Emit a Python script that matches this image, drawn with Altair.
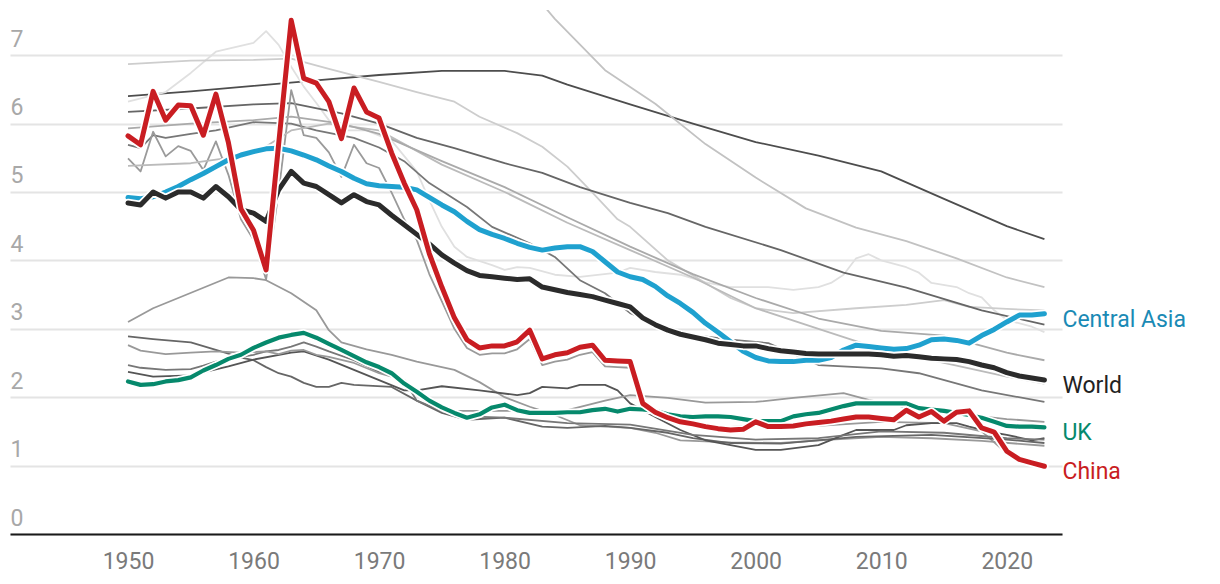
import altair as alt
import pandas as pd

# ---------------- data ----------------
years = list(range(1950, 2024))

china = [5.82, 5.69, 6.47, 6.05, 6.27, 6.26, 5.83, 6.43, 5.72, 4.75,
         4.44, 3.86, 5.70, 7.51, 6.66, 6.59, 6.32, 5.78, 6.52, 6.17,
         6.08, 5.57, 5.13, 4.74, 4.10, 3.61, 3.16, 2.84, 2.72, 2.75,
         2.75, 2.81, 2.98, 2.56, 2.62, 2.65, 2.73, 2.76, 2.54, 2.53,
         2.52, 1.91, 1.78, 1.70, 1.64, 1.61, 1.57, 1.54, 1.52, 1.53,
         1.64, 1.57, 1.57, 1.58, 1.61, 1.63, 1.65, 1.68, 1.71, 1.71,
         1.69, 1.67, 1.81, 1.71, 1.79, 1.65, 1.78, 1.80, 1.55, 1.49,
         1.21, 1.09, 1.04, 0.99]

world = [4.84, 4.81, 5.00, 4.91, 5.00, 5.00, 4.91, 5.08, 4.93, 4.74,
         4.69, 4.57, 5.03, 5.30, 5.13, 5.08, 4.96, 4.84, 4.96, 4.86,
         4.81, 4.66, 4.52, 4.38, 4.24, 4.08, 3.96, 3.85, 3.78, 3.76,
         3.74, 3.72, 3.73, 3.61, 3.57, 3.53, 3.50, 3.47, 3.42, 3.37,
         3.32, 3.16, 3.06, 2.98, 2.92, 2.88, 2.84, 2.79, 2.77, 2.75,
         2.75, 2.71, 2.68, 2.66, 2.64, 2.63, 2.63, 2.63, 2.63, 2.63,
         2.62, 2.60, 2.61, 2.59, 2.57, 2.56, 2.55, 2.52, 2.47, 2.43,
         2.36, 2.31, 2.28, 2.25]

central_asia = [4.92, 4.90, 4.93, 5.00, 5.08, 5.18, 5.27, 5.37, 5.47, 5.54,
                5.59, 5.63, 5.64, 5.60, 5.54, 5.47, 5.38, 5.30, 5.20, 5.12,
                5.09, 5.08, 5.07, 5.03, 4.92, 4.81, 4.71, 4.57, 4.45, 4.38,
                4.32, 4.25, 4.19, 4.15, 4.18, 4.20, 4.20, 4.13, 3.98, 3.83,
                3.76, 3.72, 3.62, 3.48, 3.37, 3.24, 3.08, 2.95, 2.81, 2.67,
                2.58, 2.53, 2.52, 2.52, 2.54, 2.54, 2.58, 2.69, 2.76, 2.74,
                2.72, 2.70, 2.71, 2.76, 2.84, 2.85, 2.83, 2.79, 2.90, 2.99,
                3.10, 3.20, 3.20, 3.22]

uk = [2.23, 2.18, 2.19, 2.23, 2.25, 2.29, 2.39, 2.47, 2.56, 2.62,
      2.72, 2.80, 2.87, 2.91, 2.94, 2.87, 2.78, 2.69, 2.60, 2.51,
      2.44, 2.35, 2.20, 2.08, 1.95, 1.85, 1.77, 1.70, 1.75, 1.85,
      1.89, 1.81, 1.77, 1.77, 1.77, 1.78, 1.78, 1.81, 1.83, 1.79,
      1.83, 1.82, 1.80, 1.75, 1.72, 1.71, 1.72, 1.72, 1.71, 1.68,
      1.65, 1.65, 1.65, 1.72, 1.75, 1.77, 1.82, 1.87, 1.91, 1.91,
      1.91, 1.91, 1.91, 1.84, 1.82, 1.80, 1.77, 1.74, 1.70, 1.64,
      1.58, 1.57, 1.57, 1.56]

# background (grey) series: (years, values)
g1_years = [1950, 1955, 1960, 1965, 1970, 1975, 1980, 1983, 1985, 1990, 1995, 2000, 2005, 2010, 2015, 2020, 2023]
g1_vals = [6.40, 6.47, 6.55, 6.63, 6.71, 6.77, 6.77, 6.70, 6.57, 6.28, 6.00, 5.73, 5.53, 5.30, 4.90, 4.50, 4.31]

g2_years = [1965, 1975, 1980, 1984, 1988, 1992, 1996, 2000, 2004, 2008, 2012, 2016, 2020, 2023]
g2_vals = [8.6, 8.7, 8.4, 7.53, 6.78, 6.29, 5.70, 5.21, 4.76, 4.48, 4.28, 4.03, 3.75, 3.61]

g3_years = [1950, 1953, 1955, 1957, 1960, 1961, 1962, 1963, 1964, 1965, 1966, 1967, 1969, 1971,
            1973, 1974, 1975, 1976, 1977, 1979, 1980, 1981, 1982, 1984, 1986, 1989, 1990, 1992,
            1994, 1996, 1998, 2001, 2003, 2005, 2006, 2007, 2008, 2009, 2010, 2012, 2013, 2014,
            2016, 2017, 2018, 2019, 2020, 2022, 2023]
g3_vals = [6.32, 6.46, 6.74, 7.05, 7.18, 7.35, 7.15, 6.83, 6.54, 6.30, 6.05, 5.90, 5.90, 5.75,
           5.30, 4.88, 4.49, 4.20, 4.05, 3.93, 3.86, 3.90, 3.89, 3.79, 3.76, 3.82, 3.89, 3.83,
           3.79, 3.68, 3.61, 3.61, 3.57, 3.61, 3.67, 3.79, 4.03, 4.09, 4.00, 3.90, 3.82, 3.67,
           3.61, 3.52, 3.46, 3.27, 3.13, 3.03, 2.95]

g4_years = [1950, 1955, 1960, 1963, 1966, 1970, 1973, 1976, 1978, 1981, 1983, 1985, 1987, 1989,
            1990, 1993, 1996, 1998, 2000, 2003, 2008, 2012, 2015, 2017, 2020, 2023]
g4_vals = [6.87, 6.92, 6.93, 6.95, 6.80, 6.61, 6.46, 6.32, 6.10, 5.86, 5.66, 5.37, 4.99, 4.60,
           4.49, 4.00, 3.67, 3.45, 3.30, 3.23, 3.30, 3.35, 3.42, 3.32, 3.29, 3.27]

g5_years = [1950, 1955, 1960, 1963, 1967, 1970, 1973, 1976, 1980, 1983, 1986, 1990, 1993, 1996,
            2002, 2007, 2012, 2018, 2023]
g5_vals = [6.17, 6.22, 6.28, 6.30, 6.15, 6.00, 5.79, 5.64, 5.42, 5.28, 5.07, 4.84, 4.69, 4.49,
           4.15, 3.82, 3.60, 3.27, 3.06]

g6_years = [1950, 1951, 1952, 1953, 1955, 1957, 1960, 1963, 1965, 1968, 1970, 1972, 1974, 1977,
            1979, 1982, 1984, 1986, 1988, 1990, 1992, 1995, 1998, 2001, 2005, 2010, 2013, 2018, 2023]
g6_vals = [5.69, 5.64, 5.83, 5.79, 5.85, 5.90, 6.02, 6.00, 5.90, 5.79, 5.65, 5.45, 5.13, 4.78,
           4.49, 4.25, 4.05, 3.71, 3.52, 3.23, 3.08, 2.91, 2.84, 2.79, 2.47, 2.42, 2.35, 2.10, 1.93]

g7_years = list(range(1950, 1991)) + [1991, 1993, 1996, 2000, 2005, 2010, 2015, 2018, 2020, 2023]
g7_vals = [5.49, 5.30, 5.88, 5.52, 5.67, 5.60, 5.32, 5.74, 5.25, 4.60,
           4.30, 3.72, 5.00, 6.49, 5.83, 5.79, 5.58, 5.22, 5.69, 5.42,
           5.35, 4.99, 4.60, 4.30, 3.80, 3.40, 3.00, 2.72, 2.62, 2.64,
           2.64, 2.70, 2.85, 2.47, 2.52, 2.55, 2.62, 2.66, 2.45, 2.44,
           2.43, 1.88, 1.68, 1.55, 1.58, 1.58, 1.64, 1.62, 1.50, 1.18, 0.97]

g8_years = [1950, 1955, 1960, 1963, 1966, 1970, 1975, 1980, 1985, 1990, 1995, 2000, 2005, 2010, 2015, 2020, 2023]
g8_vals = [5.38, 5.42, 5.55, 5.90, 6.00, 5.90, 5.40, 5.00, 4.55, 4.15, 3.75, 3.30, 3.00, 2.70, 2.50, 2.30, 2.20]

g9_years = [1950, 1955, 1960, 1963, 1967, 1970, 1975, 1980, 1985, 1990, 1995, 2000, 2005, 2010, 2015, 2020, 2023]
g9_vals = [5.93, 6.00, 6.05, 6.10, 6.00, 5.85, 5.45, 5.07, 4.63, 4.20, 3.80, 3.45, 3.15, 2.97, 2.90, 2.65, 2.54]

l1_years = [1950, 1952, 1954, 1956, 1958, 1960, 1961, 1963, 1965, 1966, 1967, 1969, 1971, 1973, 1976,
            1978, 1980, 1982, 1984, 1986, 1988, 1990, 1992, 1994, 1998, 2002, 2006, 2010, 2014, 2018, 2023]
l1_vals = [3.10, 3.30, 3.45, 3.60, 3.75, 3.74, 3.71, 3.52, 3.27, 2.98, 2.80, 2.70, 2.62, 2.52, 2.40,
           2.22, 2.00, 1.86, 1.74, 1.59, 1.57, 1.55, 1.48, 1.37, 1.34, 1.33, 1.38, 1.42, 1.40, 1.36, 1.29]

l2_years = [1950, 1952, 1955, 1957, 1959, 1960, 1961, 1962, 1963, 1964, 1965, 1966, 1967, 1968, 1971,
            1973, 1975, 1977, 1980, 1983, 1985, 1988, 1990, 1993, 1995, 1998, 2002, 2008, 2014, 2020, 2023]
l2_vals = [2.89, 2.85, 2.80, 2.69, 2.58, 2.54, 2.44, 2.35, 2.30, 2.21, 2.15, 2.15, 2.21, 2.18, 2.15,
           1.95, 1.77, 1.67, 1.70, 1.57, 1.55, 1.58, 1.55, 1.48, 1.40, 1.33, 1.32, 1.42, 1.45, 1.38, 1.33]

l3_years = [1950, 1952, 1955, 1958, 1960, 1963, 1964, 1966, 1968, 1970, 1972, 1973, 1975, 1978, 1981,
            1982, 1983, 1985, 1986, 1988, 1989, 1990, 1992, 1994, 1996, 1998, 2000, 2002, 2005, 2007,
            2008, 2011, 2012, 2014, 2016, 2017, 2019, 2020, 2022, 2023]
l3_vals = [2.37, 2.30, 2.32, 2.45, 2.55, 2.65, 2.67, 2.55, 2.40, 2.25, 2.10, 2.10, 2.16, 2.10, 2.03,
           2.06, 2.15, 2.13, 2.18, 2.18, 2.10, 1.91, 1.71, 1.52, 1.37, 1.30, 1.23, 1.23, 1.30, 1.45,
           1.52, 1.52, 1.59, 1.62, 1.62, 1.57, 1.48, 1.45, 1.37, 1.40]

l4_years = [1950, 1951, 1953, 1955, 1956, 1957, 1959, 1960, 1961, 1962, 1963, 1964, 1965, 1966, 1968,
            1970, 1972, 1973, 1975, 1977, 1980, 1985, 1990, 1995, 2000, 2005, 2010, 2015, 2020, 2023]
l4_vals = [2.47, 2.43, 2.40, 2.41, 2.46, 2.52, 2.59, 2.62, 2.67, 2.69, 2.74, 2.80, 2.74, 2.67, 2.54,
           2.37, 2.25, 1.95, 1.80, 1.72, 1.70, 1.62, 1.60, 1.45, 1.38, 1.40, 1.50, 1.48, 1.40, 1.38]

l5_years = [1950, 1951, 1953, 1955, 1957, 1959, 1961, 1962, 1963, 1964, 1965, 1966, 1968, 1970, 1972,
            1974, 1976, 1980, 1985, 1988, 1990, 1993, 1996, 2000, 2003, 2007, 2009, 2012, 2015, 2018,
            2020, 2023]
l5_vals = [2.76, 2.68, 2.63, 2.65, 2.67, 2.65, 2.67, 2.63, 2.68, 2.69, 2.62, 2.59, 2.50, 2.35, 2.25,
           1.95, 1.80, 1.80, 1.81, 1.95, 2.03, 1.99, 1.92, 1.93, 1.99, 2.06, 1.96, 1.85, 1.81, 1.72,
           1.68, 1.64]

grey_series = [
    ("g1", g1_years, g1_vals, "#4d4d4d"),
    ("g2", g2_years, g2_vals, "#c2c2c2"),
    ("g3", g3_years, g3_vals, "#e0e0e0"),
    ("g4", g4_years, g4_vals, "#cdcdcd"),
    ("g5", g5_years, g5_vals, "#666666"),
    ("g6", g6_years, g6_vals, "#777777"),
    ("g7", g7_years, g7_vals, "#9a9a9a"),
    ("g8", g8_years, g8_vals, "#bbbbbb"),
    ("g9", g9_years, g9_vals, "#aaaaaa"),
    ("l1", l1_years, l1_vals, "#999999"),
    ("l2", l2_years, l2_vals, "#666666"),
    ("l3", l3_years, l3_vals, "#555555"),
    ("l4", l4_years, l4_vals, "#777777"),
    ("l5", l5_years, l5_vals, "#999999"),
]

highlight_names = ["UK", "Central Asia", "World", "China"]
highlight_values = [uk, central_asia, world, china]
highlight_colors = ["#06896c", "#1fa1cf", "#2b2b2b", "#c91d22"]
label_colors = ["#06896c", "#1a8ab5", "#222222", "#c91d22"]
highlight_widths = [4.2, 5, 5, 5]

y_ticks = [0, 1, 2, 3, 4, 5, 6, 7]
x_ticks = [1950, 1960, 1970, 1980, 1990, 2000, 2010, 2020]

# ---------------- build tables ----------------
grey_rows = []
for name, ys, vs, _c in grey_series:
    for y, v in zip(ys, vs):
        grey_rows.append({"series": name, "year": y, "value": v})
grey_df = pd.DataFrame(grey_rows)

x_scale = alt.Scale(domain=[1940.6, 2024.4], nice=False, zero=False)
y_scale = alt.Scale(domain=[0, 7.66], nice=False, zero=True)

x_axis = alt.Axis(values=x_ticks, format="d", ticks=False, tickSize=0, grid=False,
                  domain=True, domainColor="#1a1a1a", domainWidth=2.2,
                  labelFont="Roboto", labelFontSize=23, labelColor="#7a7a7a",
                  labelBaseline="alphabetic", labelPadding=34, title=None)
y_axis = alt.Axis(values=y_ticks, format="d", ticks=False, tickSize=0, domain=False, grid=True,
                  gridColor="#e4e4e4", gridWidth=1.8,
                  labelFont="Roboto", labelFontSize=23, labelColor="#a8a8a8",
                  labelAlign="left", labelBaseline="alphabetic", labelPadding=0,
                  labelOffset=-9, title=None)

base_x = alt.X("year:Q", scale=x_scale, axis=x_axis)
base_y = alt.Y("value:Q", scale=y_scale, axis=y_axis)

grey_layer = alt.Chart(grey_df).mark_line(clip=True, strokeWidth=1.8, strokeJoin="round").encode(
    x=base_x,
    y=base_y,
    color=alt.Color("series:N", scale=alt.Scale(domain=[g[0] for g in grey_series],
                                                range=[g[3] for g in grey_series]), legend=None),
    detail="series:N",
)

layers = [grey_layer]
for name, vals, col, w in zip(highlight_names, highlight_values, highlight_colors, highlight_widths):
    df = pd.DataFrame({"year": years, "value": vals, "series": name})
    halo = alt.Chart(df).mark_line(clip=True, color="white", strokeWidth=w + 3.5,
                                   strokeCap="round", strokeJoin="round").encode(
        x=alt.X("year:Q", scale=x_scale), y=alt.Y("value:Q", scale=y_scale))
    line = alt.Chart(df).mark_line(clip=True, color=col, strokeWidth=w,
                                   strokeCap="round", strokeJoin="round").encode(
        x=alt.X("year:Q", scale=x_scale), y=alt.Y("value:Q", scale=y_scale))
    layers += [halo, line]

label_df = pd.DataFrame({
    "series": highlight_names,
    "year": [years[-1]] * 4,
    "value": [v[-1] for v in highlight_values],
})
labels = alt.Chart(label_df).mark_text(align="left", baseline="alphabetic", dx=18, dy=13,
                                       font="Roboto", fontSize=23).encode(
    x=alt.X("year:Q", scale=x_scale),
    y=alt.Y("value:Q", scale=y_scale),
    text="series:N",
    color=alt.Color("series:N", scale=alt.Scale(domain=highlight_names, range=label_colors),
                    legend=None),
)
layers.append(labels)

chart = alt.layer(*layers).resolve_scale(color="independent").properties(
    width=1052, height=524,
    autosize=alt.AutoSizeParams(type="none"),
    padding={"left": 10, "top": 10, "right": 158, "bottom": 50},
    background="white",
).configure_view(strokeWidth=0)

chart.save("out.html", embed_options={"renderer": "svg", "actions": False})
